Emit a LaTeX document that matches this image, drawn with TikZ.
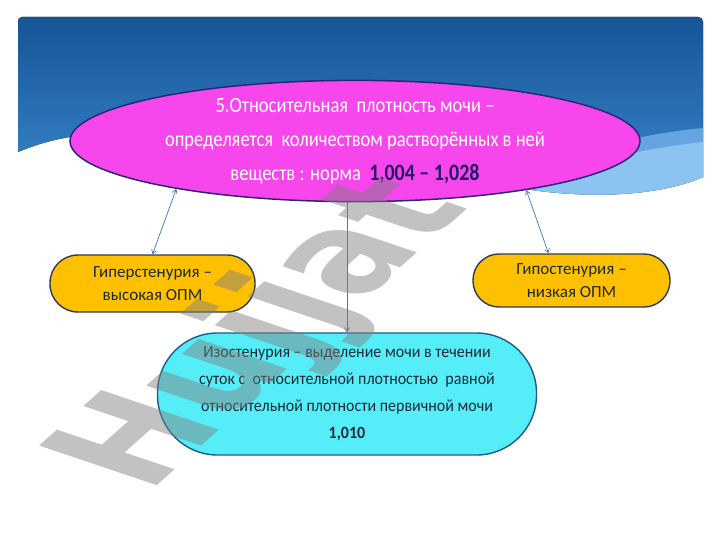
\documentclass[tikz,border=0pt]{standalone}
\usepackage{fontspec}
\setmainfont{Carlito}
\newfontfamily\condfont[FakeStretch=0.85]{Carlito}
\newfontfamily\midfont[FakeStretch=0.93]{Carlito}
\newfontfamily\wmfont{DejaVu Sans}
\usetikzlibrary{shapes.geometric,arrows.meta}
\definecolor{hdrtop}{RGB}{22,84,150}
\definecolor{hdrbot}{RGB}{58,138,206}
\definecolor{wave}{RGB}{140,195,240}
\definecolor{wavetwo}{RGB}{100,165,225}
\definecolor{mag}{RGB}{246,70,236}
\definecolor{navy}{RGB}{40,40,120}
\definecolor{gold}{RGB}{255,192,0}
\definecolor{slate}{RGB}{45,60,80}
\definecolor{cyanbox}{RGB}{85,238,248}
\definecolor{cyanline}{RGB}{30,90,140}
\definecolor{arrowc}{RGB}{68,114,196}
\definecolor{txtdark}{RGB}{30,40,55}
\definecolor{numnavy}{RGB}{35,25,100}
\begin{document}
\begin{tikzpicture}[x=1pt,y=-1pt,
  ellbox/.style={ellipse, fill=mag, draw=navy, line width=1.5pt, minimum width=570pt, minimum height=114pt, inner sep=0pt, align=center, text=white, font=\condfont\fontsize{21.8}{34}\selectfont},
  goldbox/.style={rectangle, fill=gold, draw=slate, line width=1.4pt, align=center, text=txtdark, font=\fontsize{17}{23}\selectfont},
  cyanpill/.style={rectangle, fill=cyanbox, draw=cyanline, line width=1.4pt, rounded corners=60pt, minimum width=379pt, minimum height=122pt, align=center, text=txtdark, font=\midfont\fontsize{17.2}{27}\selectfont},
  conn/.style={draw=arrowc, line width=0.7pt}
]
\useasboundingbox (0,0) rectangle (720,540);
\fill[white] (0,0) rectangle (720,540);
% header band
\fill[top color=hdrtop, bottom color=hdrbot]
  (18,152) -- (18,22) .. controls (18,19) and (19,17) .. (22,17) -- (698,17)
  .. controls (701,17) and (703,19) .. (703,22) -- (703,177)
  .. controls (650,200) and (560,200) .. (480,180) -- (100,133)
  .. controls (60,137) and (40,143) .. (18,152) -- cycle;
\fill[wavetwo] (703,128) .. controls (640,134) and (580,150) .. (530,172) -- (480,180)
  .. controls (560,200) and (650,200) .. (703,177) -- cycle;
\fill[wave] (703,142) .. controls (650,148) and (590,160) .. (545,176) -- (480,180)
  .. controls (560,200) and (650,200) .. (703,177) -- cycle;
% nodes
\node[ellbox] (ell) at (355,141) {5.Относительная \ плотность мочи –\\определяется \ количеством растворённых в ней\\веществ : норма \ {\bfseries\color{numnavy}\fontsize{23.5}{34}\selectfont 1,004 – 1,028}};
\node[goldbox, minimum width=205pt, minimum height=57pt, rounded corners=28pt] (lb) at (152.5,283.5) {Гиперстенурия –\\высокая ОПМ};
\node[goldbox, minimum width=197pt, minimum height=53pt, rounded corners=26pt] (rb) at (571.5,280.5) {Гипостенурия –\\низкая ОПМ};
\node[cyanpill] (bot) at (347,394) {Изостенурия – выделение мочи в течении\\суток с \ относительной плотностью \ равной\\относительной плотности первичной мочи\\{\bfseries 1,010}};
% connectors
\draw[conn, {Straight Barb[length=4pt,width=5pt]}-{Straight Barb[length=4pt,width=5pt]}] (ell.195) -- (lb.north);
\draw[conn, {Straight Barb[length=4pt,width=5pt]}-{Straight Barb[length=4pt,width=5pt]}] (ell.344) -- ([xshift=-23pt]rb.north);
\draw[conn, -{Straight Barb[length=4pt,width=5pt]}] (ell.south -| bot.north) -- (bot.north);
% watermark
\node[anchor=base west, inner sep=0pt, text=black!50, text opacity=0.48,
  font=\wmfont\bfseries\fontsize{170}{170}\selectfont,
  cm={0.56,0.50,-0.95,0.32,(0,0)}] (wm) at (148,494) {Hujjat};
\end{tikzpicture}
\end{document}
